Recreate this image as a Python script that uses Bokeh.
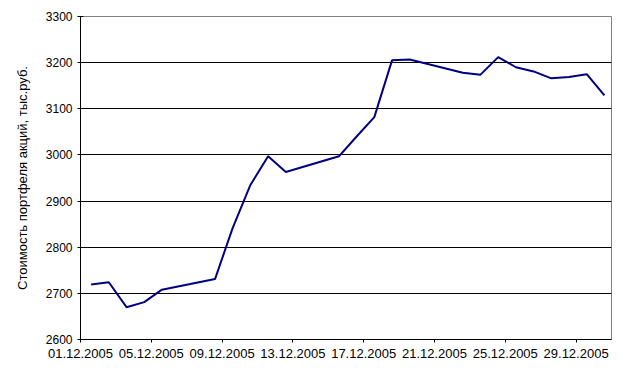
from bokeh.plotting import figure
from bokeh.models import FixedTicker, Range1d
from bokeh.embed import file_html
from bokeh.resources import INLINE

# Day of December 2005 and portfolio value (thousand roubles)
days = [1, 2, 3, 4, 5, 8, 9, 10, 11, 12, 15, 16, 17, 18, 19, 22, 23, 24, 25, 26, 27, 28, 29, 30]
values = [2719, 2724, 2670, 2681, 2708, 2731, 2842, 2935, 2997, 2963, 2997, 3040, 3082, 3205,
          3207, 3178, 3174, 3212, 3190, 3181, 3166, 3169, 3175, 3129]

tick_days = [1, 5, 9, 13, 17, 21, 25, 29]
tick_labels = ["01.12.2005", "05.12.2005", "09.12.2005", "13.12.2005",
               "17.12.2005", "21.12.2005", "25.12.2005", "29.12.2005"]
y_ticks = [2600, 2700, 2800, 2900, 3000, 3100, 3200, 3300]
y_title = "Стоимость портфеля акций, тыс.руб."

offset = 0.6  # ticks sit at the start of each day slot
tick_pos = [d - offset for d in tick_days]

p = figure(width=622, height=363, output_backend="svg", toolbar_location=None,
           x_range=Range1d(1 - offset, 31 - offset), y_range=Range1d(2600, 3300),
           min_border_left=80, min_border_right=11, min_border_top=16, min_border_bottom=24)

p.background_fill_color = "white"
p.border_fill_color = "white"
p.outline_line_color = "#808080"
p.outline_line_width = 1

p.line(days, values, line_color="#000080", line_width=2)

font = "Liberation Sans"
p.xaxis.ticker = FixedTicker(ticks=tick_pos)
p.xaxis.major_label_overrides = {t: l for t, l in zip(tick_pos, tick_labels)}
p.xaxis.major_tick_in = 0
p.xaxis.major_tick_out = 3
p.xaxis.minor_tick_line_color = None
p.xaxis.major_label_standoff = 6
p.xaxis.major_label_text_font = font
p.xaxis.major_label_text_font_size = "13px"
p.xaxis.major_label_text_color = "black"
p.xaxis.axis_line_color = "black"
p.xaxis.major_tick_line_color = "black"

p.yaxis.ticker = FixedTicker(ticks=y_ticks)
p.yaxis.major_tick_in = 3
p.yaxis.major_tick_out = 3
p.yaxis.minor_tick_line_color = None
p.yaxis.major_label_standoff = 5
p.yaxis.major_label_text_font = font
p.yaxis.major_label_text_font_size = "12px"
p.yaxis.major_label_text_color = "black"
p.yaxis.axis_line_color = "black"
p.yaxis.major_tick_line_color = "black"
p.yaxis.axis_label = y_title
p.yaxis.axis_label_text_font = font
p.yaxis.axis_label_text_font_size = "13px"
p.yaxis.axis_label_text_font_style = "normal"
p.yaxis.axis_label_text_color = "black"
p.yaxis.axis_label_standoff = 13

p.xgrid.grid_line_color = None
p.ygrid.ticker = FixedTicker(ticks=y_ticks[1:-1])
p.ygrid.grid_line_color = "black"
p.ygrid.grid_line_width = 1

open("out.html", "w").write(file_html(p, INLINE))
